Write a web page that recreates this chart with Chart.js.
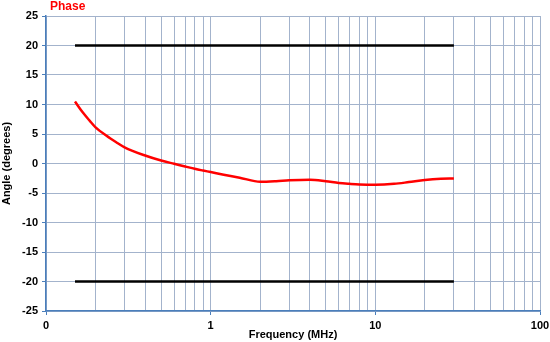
<!DOCTYPE html>
<html>
<head>
<meta charset="utf-8">
<script src="https://cdn.jsdelivr.net/npm/chart.js@4"></script>
<style>
  html, body { margin: 0; padding: 0; background: #fff; }
  #wrap { width: 550px; height: 342px; }
</style>
</head>
<body>
<div id="wrap"><canvas id="myChart"></canvas></div>
<script>
// frequency in MHz and phase angle in degrees
const freq = [0.15, 0.167, 0.184, 0.2, 0.232, 0.267, 0.3, 0.4, 0.5, 0.6, 0.7, 0.8, 0.9, 1.0, 1.2, 1.5, 2.0, 2.5, 3.0, 4.0, 5.0, 6.0, 7.0, 8.0, 10, 13, 16, 20, 25, 30];
const phase = [10.5, 8.67, 7.26, 6.13, 4.73, 3.6, 2.75, 1.35, 0.5, -0.05, -0.5, -0.9, -1.2, -1.45, -1.9, -2.4, -3.1, -3.0, -2.85, -2.75, -3.0, -3.3, -3.45, -3.55, -3.6, -3.45, -3.15, -2.8, -2.6, -2.55];

// limit lines
const limitFreq = [0.15, 30];
const upperLimit = [20, 20];
const lowerLimit = [-20, -20];

// x grid positions and labels
const xGrid = [0.1,0.2,0.3,0.4,0.5,0.6,0.7,0.8,0.9,1,2,3,4,5,6,7,8,9,10,20,30,40,50,60,70,80,90,100];
const xLabels = {0.1: "0", 1: "1", 10: "10", 100: "100"};
const yMin = -25, yMax = 25, yStep = 5;

const font = "'Liberation Sans', Arial, sans-serif";

function pts(xs, ys){
  return xs.map((x, i) => ({x: x, y: ys[i]}));
}

const titlePlugin = {
  id: "phaseTitle",
  afterDraw(chart){
    const ctx = chart.ctx;
    ctx.save();
    ctx.fillStyle = "#ff0000";
    ctx.font = "bold 12px " + font;
    ctx.textBaseline = "middle";
    ctx.fillText("Phase", 50, 7);
    ctx.restore();
  }
};

const data = {
  datasets: [
    {
      label: "Phase",
      data: pts(freq, phase),
      borderColor: "#ff0000",
      borderWidth: 2.5,
      pointRadius: 0,
      cubicInterpolationMode: "monotone"
    },
    {
      label: "Upper",
      data: pts(limitFreq, upperLimit),
      borderColor: "#000000",
      borderWidth: 2.5,
      pointRadius: 0
    },
    {
      label: "Lower",
      data: pts(limitFreq, lowerLimit),
      borderColor: "#000000",
      borderWidth: 2.5,
      pointRadius: 0
    }
  ]
};

const config = {
  type: "line",
  data: data,
  plugins: [titlePlugin],
  options: {
    responsive: false,
    animation: false,
    layout: { padding: { top: 16, right: 10, left: 0, bottom: 0 } },
    plugins: {
      legend: { display: false },
      tooltip: { enabled: false }
    },
    scales: {
      x: {
        type: "logarithmic",
        min: 0.1,
        max: 100,
        afterBuildTicks: function(scale){
          scale.ticks = xGrid.map(v => ({value: v}));
        },
        afterFit: function(scale){
          scale.height = 31;
          scale.paddingLeft = 0;
          scale.paddingRight = 0;
        },
        ticks: {
          autoSkip: false,
          maxRotation: 0,
          color: "#000",
          font: { family: font, size: 11, weight: "bold" },
          padding: 4,
          callback: function(value){
            return xLabels[value] !== undefined ? xLabels[value] : "";
          }
        },
        grid: {
          color: "#a3b3cc",
          lineWidth: 1,
          tickLength: 4,
          tickColor: function(c){
            return xLabels[c.tick.value] !== undefined ? "#4a7ebb" : "rgba(0,0,0,0)";
          }
        },
        border: { color: "#4a7ebb", width: 1.5 },
        title: {
          display: true,
          text: "Frequency (MHz)",
          color: "#000",
          font: { family: font, size: 11, weight: "bold" },
          padding: { top: -4, bottom: 0 }
        }
      },
      y: {
        min: yMin,
        max: yMax,
        afterFit: function(scale){ scale.width = 46; },
        ticks: {
          stepSize: yStep,
          color: "#000",
          font: { family: font, size: 11, weight: "bold" },
          padding: 4
        },
        grid: {
          color: "#a3b3cc",
          lineWidth: 1,
          tickLength: 4,
          tickColor: "#4a7ebb"
        },
        border: { color: "#4a7ebb", width: 1.5 },
        title: {
          display: true,
          text: "Angle (degrees)",
          color: "#000",
          font: { family: font, size: 11, weight: "bold" },
          padding: { top: 0, bottom: 0 }
        }
      }
    }
  }
};

const ctx = document.getElementById("myChart");
ctx.width = 550;
ctx.height = 342;
const myChart = new Chart(ctx, config);
</script>
</body>
</html>
